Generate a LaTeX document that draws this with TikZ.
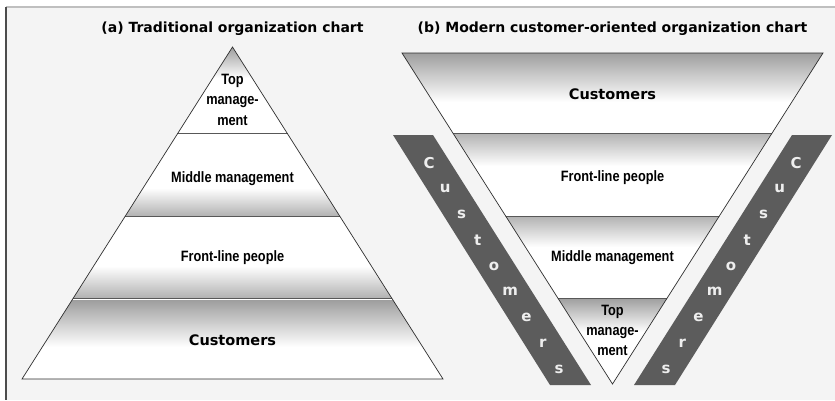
\documentclass[tikz,border=0pt]{standalone}
\usepackage{fontspec}
\setmainfont{Liberation Sans}
\newfontfamily\lblf[FakeStretch=0.85]{Liberation Sans}
\newfontfamily\ttlf{DejaVu Sans}
\definecolor{bgc}{HTML}{F4F4F4}
\definecolor{gdark}{HTML}{9E9E9E}
\definecolor{gmid}{HTML}{B2B2B2}
\definecolor{bandc}{HTML}{5C5C5C}
\definecolor{letc}{HTML}{EEEEEE}
\definecolor{linec}{HTML}{2E2E2E}
\tikzset{
  outl/.style={draw=linec, line width=0.7pt, line join=miter},
  divl/.style={draw=linec!80, line width=0.6pt},
  lbl/.style={font=\lblf\bfseries\fontsize{15}{16}\selectfont, text=black, inner sep=0pt, align=center},
  custlbl/.style={font=\ttlf\bfseries\fontsize{14.5}{15}\selectfont, text=black, inner sep=0pt},
  ttl/.style={font=\ttlf\bfseries\fontsize{14}{15}\selectfont, text=black, inner sep=0pt},
  bandlet/.style={font=\ttlf\bfseries\fontsize{15}{16}\selectfont, text=letc, inner sep=0pt},
  band/.style={fill=bandc}
}
\begin{document}
\begin{tikzpicture}[x=1pt,y=-1pt]
\useasboundingbox (0,0) rectangle (835,400);
\fill[white] (0,0) rectangle (835,400);
\fill[bgc] (6,7) rectangle (835,400);
\draw[draw=black!25, line width=1.5pt] (6,7) -- (835,7);
\draw[draw=black!70, line width=1.2pt] (6,7) -- (6,400);

% titles
\node[ttl] (ta) at (232.5,29) {(a) Traditional organization chart};
\node[ttl] (tb) at (612.5,29) {(b) Modern customer-oriented organization chart};

% ---------- left pyramid ----------
\coordinate (LA) at (232.5,47);
\coordinate (LL) at (22,379);
\coordinate (LR) at (443,379);
\begin{scope}
  \clip (LA) -- (LL) -- (LR) -- cycle;
  \fill[white] (0,40) rectangle (835,390);
  \shade[top color=gdark, bottom color=white] (0,47) rectangle (835,78);
  \shade[top color=white, bottom color=gmid] (0,188) rectangle (835,216);
  \shade[top color=white, bottom color=gmid] (0,266) rectangle (835,298);
  \shade[top color=gdark, bottom color=white] (0,300) rectangle (835,347);
  \draw[divl] (0,133) -- (835,133);
  \draw[divl] (0,216) -- (835,216);
  \draw[divl] (0,298) -- (835,298);
\end{scope}
\draw[outl] (LA) -- (LL) -- (LR) -- cycle;

\node[lbl] (la1) at (232.5,81) {Top};
\node[lbl] (la2) at (232.5,102) {manage-};
\node[lbl] (la3) at (232.5,121) {ment};
\node[lbl] (lb) at (232.5,179) {Middle management};
\node[lbl] (lc) at (232.5,258) {Front-line people};
\node[custlbl] (ld) at (232.5,340) {Customers};

% ---------- customer bands ----------
\fill[band] (393,135) -- (433,135) -- (591,385) -- (550,385) -- cycle;
\fill[band] (832,135) -- (792,135) -- (634,385) -- (675,385) -- cycle;
\foreach \ch [count=\i from 0] in {C,u,s,t,o,m,e,r,s} {
  \node[bandlet] (bl\i) at ({429+16.25*\i},{163+25.75*\i}) {\ch};
  \node[bandlet] (br\i) at ({796-16.25*\i},{163+25.75*\i}) {\ch};
}

% ---------- right inverted pyramid ----------
\coordinate (RA) at (612.5,384);
\coordinate (RL) at (402,53);
\coordinate (RR) at (823,53);
\begin{scope}
  \clip (RL) -- (RR) -- (RA) -- cycle;
  \fill[white] (0,40) rectangle (835,390);
  \shade[top color=gdark, bottom color=white] (0,53) rectangle (835,102);
  \shade[top color=gmid, bottom color=white] (0,133) rectangle (835,166);
  \shade[top color=gmid, bottom color=white] (0,216) rectangle (835,247);
  \shade[top color=gdark, bottom color=white] (0,298) rectangle (835,332);
  \draw[divl] (0,133) -- (835,133);
  \draw[divl] (0,216) -- (835,216);
  \draw[divl] (0,298) -- (835,298);
\end{scope}
\draw[outl] (RL) -- (RR) -- (RA) -- cycle;

\node[custlbl] (ra) at (612.5,94) {Customers};
\node[lbl] (rb) at (612.5,178) {Front-line people};
\node[lbl] (rc) at (612.5,258) {Middle management};
\node[lbl] (rd1) at (612.5,312) {Top};
\node[lbl] (rd2) at (612.5,333) {manage-};
\node[lbl] (rd3) at (612.5,351) {ment};
\end{tikzpicture}
\end{document}
